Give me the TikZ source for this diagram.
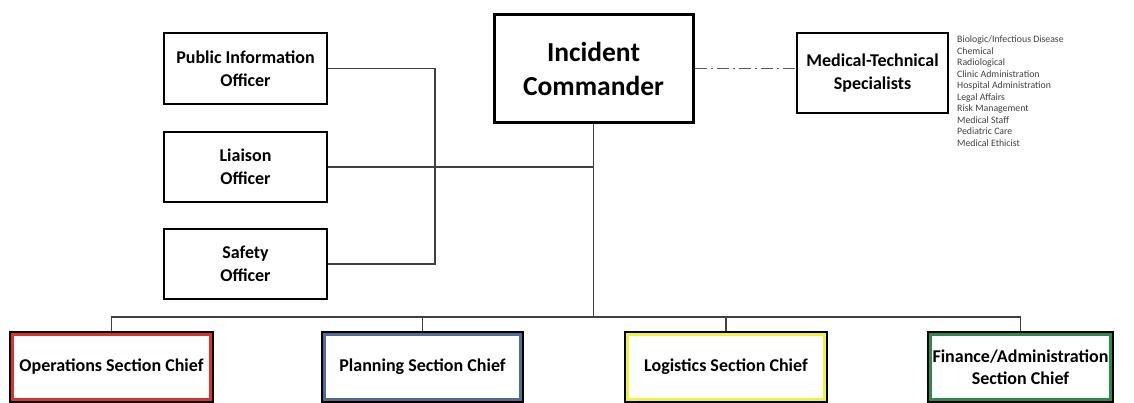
\documentclass[tikz,border=0pt]{standalone}
\usepackage{fontspec}
\setmainfont{Carlito}
\definecolor{opsred}{HTML}{D9332F}
\definecolor{planblue}{HTML}{4F6D93}
\definecolor{logyel}{HTML}{F2F23A}
\definecolor{fingreen}{HTML}{2E8A4C}
\begin{document}
\begin{tikzpicture}[x=1pt,y=-1pt,
  box/.style={draw=black, line width=2pt, fill=white, inner sep=0pt, align=center,
    font=\fontsize{18}{22.5}\selectfont\bfseries},
  sect/.style={box, minimum height=70pt},
  conn/.style={draw=black!75, line width=1.1pt},
  inner/.style={line width=2.6pt}]
\useasboundingbox (0,0) rectangle (1134,403);

\node[box, line width=3pt, minimum width=199pt, minimum height=108pt,
  font=\fontsize{27.5}{34}\selectfont\bfseries] (ic) at (593.5,69) {Incident\\Commander};
\node[box, minimum width=151pt, minimum height=80pt] (med) at (872.5,73) {Medical-Technical\\Specialists};
\node[anchor=north west, align=left, inner sep=0pt, text=black!75,
  font=\fontsize{9.8}{11.55}\selectfont] (list) at (957,35.5)
  {Biologic/Infectious Disease\\Chemical\\Radiological\\Clinic Administration\\Hospital Administration\\Legal Affairs\\Risk Management\\Medical Staff\\Pediatric Care\\Medical Ethicist};

\node[box, minimum width=163pt, minimum height=71pt] (pio) at (245.5,68.5) {Public Information\\Officer};
\node[box, minimum width=163pt, minimum height=70pt] (liaison) at (245.5,167) {Liaison\\Officer};
\node[box, minimum width=163pt, minimum height=70pt] (safety) at (245.5,264) {Safety\\Officer};

\node[sect, minimum width=203pt] (ops) at (111.5,367) {Operations Section Chief};
\node[sect, minimum width=201pt] (plan) at (422.5,367) {Planning Section Chief};
\node[sect, minimum width=202pt] (log) at (726,367) {Logistics Section Chief};
\node[sect, minimum width=185pt] (fin) at (1020.5,367) {Finance/Administration\\Section Chief};

\draw[inner, opsred] ([shift={(3.4,3.4)}]ops.north west) rectangle ([shift={(-3.4,-3.4)}]ops.south east);
\draw[inner, planblue] ([shift={(3.4,3.4)}]plan.north west) rectangle ([shift={(-3.4,-3.4)}]plan.south east);
\draw[inner, logyel] ([shift={(3.4,3.4)}]log.north west) rectangle ([shift={(-3.4,-3.4)}]log.south east);
\draw[inner, fingreen] ([shift={(3.4,3.4)}]fin.north west) rectangle ([shift={(-3.4,-3.4)}]fin.south east);

\coordinate (vx) at (435,0);
\coordinate (bus) at (0,317);

\draw[conn] (pio.east) -- (pio.east -| vx) -- (safety.east -| vx) -- (safety.east);
\draw[conn] (liaison.east) -- (liaison.east -| ic.south);
\draw[conn] (ic.south) -- (ic.south |- bus);
\draw[conn] (ops.north) -- (ops.north |- bus) -- (fin.north |- bus) -- (fin.north);
\draw[conn] (plan.north) -- (plan.north |- bus);
\draw[conn] (log.north) -- (log.north |- bus);
\draw[conn, draw=black!65, line width=1pt, dash pattern=on 12pt off 4pt on 2pt off 4pt] (ic.east) -- (ic.east -| med.west);
\end{tikzpicture}
\end{document}
